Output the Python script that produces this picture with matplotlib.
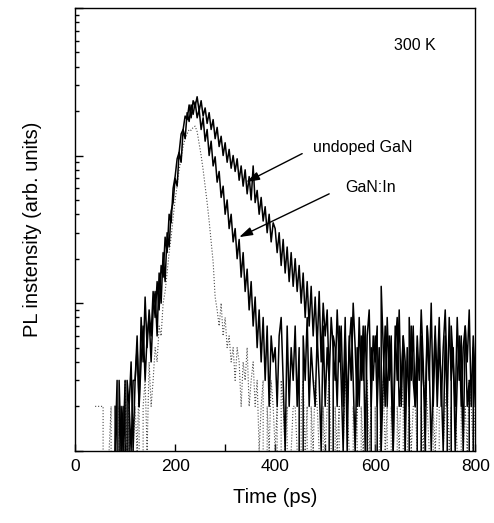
import numpy as np
import matplotlib.pyplot as plt
from matplotlib.ticker import MultipleLocator, LogLocator, NullFormatter

plt.rcParams['font.family'] = ['Liberation Sans', 'DejaVu Sans']

# time grids (ps)
t_solid = np.arange(80, 801, 4)
t_dot = np.arange(40, 801, 4)

# undoped GaN counts (every 4 ps from 80 ps)
undoped = [
    2, 0, 3, 1, 2, 0, 3, 2, 1, 3,
    3, 6, 2, 8, 4, 11, 5, 9, 6, 12,
    8, 14, 9, 18, 15, 28, 22, 40, 35, 60,
    72, 95, 105, 140, 150, 185, 175, 220, 180, 235,
    215, 250, 200, 235, 185, 210, 165, 195, 150, 175,
    130, 155, 115, 135, 100, 122, 90, 110, 82, 100,
    78, 95, 68, 85, 62, 80, 55, 72, 50, 85,
    48, 58, 40, 52, 36, 45, 30, 40, 26, 35,
    32, 22, 30, 18, 27, 16, 24, 14, 22, 13,
    20, 12, 18, 10, 16, 8, 14, 7, 13, 6,
    11, 5, 12, 4, 10, 6, 9, 3, 8, 5,
    3, 9, 4, 7, 2, 8, 1, 6, 3, 10,
    5, 2, 8, 3, 7, 1, 6, 9, 2, 6,
    4, 7, 0, 13, 5, 2, 8, 3, 6, 1,
    7, 3, 9, 2, 6, 4, 0, 8, 3, 7,
    2, 6, 3, 9, 4, 1, 7, 3, 10, 2,
    6, 3, 8, 2, 5, 9, 3, 0, 7, 4,
    2, 8, 3, 6, 1, 7, 4, 9, 2, 6,
    3,
]

# GaN:In counts (every 4 ps from 80 ps)
gan_in = [
    1, 3, 0, 2, 1, 3, 0, 2, 4, 1,
    3, 5, 2, 4, 7, 3, 6, 8, 4, 9,
    12, 6, 16, 10, 22, 14, 30, 24, 42, 48,
    70, 62, 105, 90, 150, 130, 195, 170, 220, 190,
    230, 180, 205, 150, 180, 125, 150, 100, 125, 85,
    98, 66, 78, 52, 62, 40, 50, 32, 40, 26,
    32, 20, 27, 15, 22, 12, 17, 9, 14, 7,
    11, 5, 9, 4, 8, 3, 7, 2, 6, 4,
    5, 2, 6, 8, 3, 1, 7, 2, 5, 3,
    7, 2, 5, 0, 6, 3, 8, 2, 5, 3,
    2, 6, 3, 1, 7, 2, 5, 3, 0, 6,
    5, 2, 7, 3, 1, 6, 2, 5, 8, 3,
    1, 5, 2, 6, 3, 7, 2, 0, 5, 3,
    6, 2, 5, 1, 3, 7, 2, 6, 3, 1,
    5, 8, 2, 3, 6, 1, 5, 2, 7, 3,
    2, 5, 0, 6, 3, 2, 7, 4, 1, 3,
    7, 2, 5, 3, 1, 6, 2, 8, 3, 5,
    1, 3, 6, 2, 5, 7, 2, 3, 0, 5,
    2,
]

# system response (dotted), every 4 ps from 40 ps
response = [
    2, 2, 2, 2, 2, 0, 0, 1, 2, 0,
    1, 0, 2, 1, 0, 3, 1, 2, 0, 1,
    2, 1, 3, 0, 2, 3, 1, 4, 2, 3,
    5, 4, 7, 6, 10, 12, 16, 22, 28, 38,
    50, 62, 80, 95, 115, 130, 140, 150, 148, 155,
    158, 145, 120, 100, 80, 62, 48, 36, 26, 19,
    11, 9, 7, 10, 6, 8, 5, 6, 4, 5,
    3, 5, 4, 2, 4, 3, 5, 2, 3, 4,
    2, 3, 1, 2, 3, 0, 2, 1, 3, 2,
    1, 2, 0, 3, 2, 1, 2, 0, 1, 2,
    2, 1, 0, 2, 3, 1, 2, 0, 2, 1,
    3, 2, 1, 0, 2, 1, 2, 3, 1, 0,
    2, 1, 2, 0, 1, 3, 2, 1, 0, 2,
    1, 2, 0, 2, 1, 2, 3, 1, 2, 0,
    2, 0, 1, 2, 3, 1, 2, 0, 2, 1,
    0, 2, 1, 3, 2, 0, 1, 2, 1, 2,
    2, 1, 0, 2, 1, 3, 2, 1, 0, 2,
    1, 2, 2, 0, 1, 2, 3, 1, 2, 0,
    2, 1, 0, 2, 1, 2, 1, 3, 2, 1,
    2,
]

fig = plt.figure(figsize=(4.94, 5.23), dpi=100)
ax = fig.add_axes([0.152, 0.138, 0.810, 0.847])

ax.plot(t_dot, response, color='0.3', lw=0.8, ls=':')
ax.plot(t_solid, undoped, color='black', lw=1.1)
ax.plot(t_solid, gan_in, color='black', lw=1.1)

ax.set_yscale('log', nonpositive='clip')
ax.set_xlim(0, 800)
ax.set_ylim(1, 1000)

ax.xaxis.set_major_locator(MultipleLocator(200))
ax.xaxis.set_minor_locator(MultipleLocator(100))
ax.yaxis.set_major_locator(LogLocator(base=10))
ax.yaxis.set_minor_locator(LogLocator(base=10, subs=np.arange(2, 10)))
ax.yaxis.set_major_formatter(NullFormatter())
ax.yaxis.set_minor_formatter(NullFormatter())
ax.tick_params(axis='x', which='both', direction='in', length=5, width=1,
               top=False, labelsize=12.5, pad=6)
ax.tick_params(axis='y', which='major', direction='in', length=6, width=1, right=False)
ax.tick_params(axis='y', which='minor', direction='in', length=3, width=1, right=False)
for s in ax.spines.values():
    s.set_linewidth(1.0)

ax.set_xlabel('Time (ps)', fontsize=14.5, labelpad=10)
ax.set_ylabel('PL instensity (arb. units)', fontsize=14.5, labelpad=20)

ax.text(0.85, 0.916, '300 K', transform=ax.transAxes, fontsize=11.5,
        ha='center', va='center')

arrow = dict(arrowstyle='-|>,head_length=0.8,head_width=0.25', color='black',
             lw=1.0, shrinkA=0, shrinkB=0)
ax.annotate('', xy=(342, 66), xytext=(454, 103), arrowprops=arrow)
ax.annotate('', xy=(328, 28), xytext=(508, 55), arrowprops=arrow)
ax.text(476, 113, 'undoped GaN', fontsize=11.5, ha='left', va='center')
ax.text(540, 61, 'GaN:In', fontsize=11.5, ha='left', va='center')

fig.savefig('out.png', dpi=100)
